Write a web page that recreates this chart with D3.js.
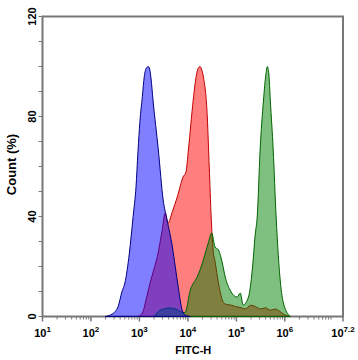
<!DOCTYPE html>
<html>
<head>
<meta charset="utf-8">
<script src="https://cdn.jsdelivr.net/npm/d3@7"></script>
<style>
  body { margin: 0; background: #fff; }
  svg { display: block; font-family: "Liberation Sans", Arial, sans-serif; }
</style>
</head>
<body>
<svg width="358" height="360"></svg>
<script>
// histogram samples: log10(FITC-H) and count (%)
const redLog   = [2.97, 3.06, 3.14, 3.22, 3.30, 3.37, 3.47, 3.53, 3.59, 3.68, 3.78, 3.90, 3.96, 4.01, 4.11, 4.17, 4.22, 4.25, 4.28, 4.32, 4.40, 4.44, 4.48, 4.52, 4.56, 4.63, 4.71, 4.77, 4.90, 4.98, 5.10, 5.18, 5.30, 5.39, 5.50, 5.60, 5.70, 5.80, 5.90, 5.97, 6.11];
const redVal   = [0, 1.4, 7, 13.4, 19, 24, 34.6, 41.4, 37.4, 42, 47.8, 55.8, 57.8, 66.6, 86.6, 96, 99.6, 100, 99, 95.8, 79.8, 59.8, 39.8, 26.6, 22, 13.4, 6.6, 5, 4.5, 4, 3.5, 3, 4.5, 4, 3, 3.5, 2.5, 3, 2, 1, 0];

const greenLog = [3.30, 3.39, 3.50, 3.63, 3.75, 3.84, 3.94, 4.05, 4.19, 4.30, 4.36, 4.42, 4.49, 4.56, 4.63, 4.71, 4.77, 4.87, 5.02, 5.08, 5.14, 5.25, 5.33, 5.39, 5.43, 5.49, 5.56, 5.61, 5.64, 5.67, 5.70, 5.76, 5.82, 5.91, 5.97, 6.11];
const greenVal = [0, 2, 3, 3.4, 3, 2, 1.5, 10.6, 15.8, 21.4, 25.4, 29.4, 33.4, 27.8, 26.6, 21.4, 15.8, 10.6, 7.8, 9.4, 4.6, 7.8, 19, 33, 39.8, 66.6, 86.6, 97, 100, 97, 86.6, 66.6, 39.8, 13.4, 5.4, 0];

const blueLog  = [2.29, 2.44, 2.56, 2.64, 2.70, 2.79, 2.87, 2.93, 2.97, 3.01, 3.06, 3.10, 3.15, 3.18, 3.21, 3.24, 3.28, 3.39, 3.49, 3.57, 3.68, 3.74, 3.80, 3.88, 3.94, 4.05];
const blueVal  = [0, 1, 4, 10, 13.4, 25, 40, 52, 66, 78, 88, 96, 99.6, 100, 99, 95, 86.6, 66.6, 46.6, 38.6, 27.8, 19.8, 11.8, 2.6, 0.6, 0];

const yTicks = [0, 40, 80, 120];
const xTicks = [1, 2, 3, 4, 5, 6, 7.2];

const series = [
  {log: redLog, val: redVal, fill: 'rgba(255,0,0,0.5)', stroke: '#c00000'},
  {log: greenLog, val: greenVal, fill: 'rgba(0,128,0,0.5)', stroke: '#006400'},
  {log: blueLog, val: blueVal, fill: 'rgba(0,0,255,0.5)', stroke: '#000080'}
];

const glue = {left: 42.5, top: 16.5, right: 15, bottom: 43.5};
const width = 358 - glue.left - glue.right;
const height = 360 - glue.top - glue.bottom;

const svg = d3.select('svg');
const g = svg.append('g').attr('transform', 'translate(' + glue.left + ',' + glue.top + ')');

const x = d3.scaleLinear().domain([1, 7.2]).range([0, width]);
const y = d3.scaleLinear().domain([0, 120]).range([height, 0]);

// frame
g.append('rect')
  .attr('width', width).attr('height', height)
  .attr('fill', 'none').attr('stroke', '#777').attr('stroke-width', 2);

// y ticks
const yMinor = d3.range(0, 121, 10);
g.selectAll('.ytick').data(yMinor).enter().append('line')
  .attr('x1', -4).attr('x2', 0)
  .attr('y1', d => y(d)).attr('y2', d => y(d))
  .attr('stroke', '#777').attr('stroke-width', 1);
g.selectAll('.ylab').data(yTicks).enter().append('text')
  .attr('transform', d => 'translate(-7,' + y(d) + ') rotate(-90)')
  .attr('text-anchor', 'middle')
  .attr('font-size', 11).attr('font-weight', 'bold')
  .text(d => d);

// x ticks (major decades + minor 2..9)
const xMinor = [];
for (let e = 1; e < 7.2; e++) {
  for (let m = 2; m <= 9; m++) {
    const v = e + Math.log10(m);
    if (v < 7.2) xMinor.push(v);
  }
}
g.selectAll('.xminor').data(xMinor).enter().append('line')
  .attr('x1', d => x(d)).attr('x2', d => x(d))
  .attr('y1', height).attr('y2', height + 3)
  .attr('stroke', '#777').attr('stroke-width', 1);
g.selectAll('.xmajor').data(xTicks).enter().append('line')
  .attr('x1', d => x(d)).attr('x2', d => x(d))
  .attr('y1', height).attr('y2', height + 5)
  .attr('stroke', '#777').attr('stroke-width', 1.5);
const xl = g.selectAll('.xlab').data(xTicks).enter().append('text')
  .attr('x', d => x(d)).attr('y', height + 20)
  .attr('text-anchor', 'middle')
  .attr('font-size', 11).attr('font-weight', 'bold').attr('fill', '#000');
xl.append('tspan').text('10');
xl.append('tspan').attr('dy', -5).attr('font-size', 8).text(d => d);

// axis titles
svg.append('text')
  .attr('transform', 'translate(16,' + (glue.top + height / 2 - 2) + ') rotate(-90)')
  .attr('text-anchor', 'middle')
  .attr('font-size', 13).attr('font-weight', 'bold')
  .text('Count (%)');
svg.append('text')
  .attr('x', glue.left + x(4.11)).attr('y', 354)
  .attr('text-anchor', 'middle')
  .attr('font-size', 11).attr('font-weight', 'bold').attr('fill', '#000')
  .text('FITC-H');

// histograms
const area = d3.area()
  .x(d => x(d[0]))
  .y0(height)
  .y1(d => y(d[1]))
  .curve(d3.curveMonotoneX);

series.forEach(s => {
  const pts = s.log.map((l, i) => [l, s.val[i]]);
  g.append('path')
    .attr('d', area(pts))
    .attr('fill', s.fill)
    .attr('stroke', s.stroke)
    .attr('stroke-width', 1);
});
</script>
</body>
</html>
